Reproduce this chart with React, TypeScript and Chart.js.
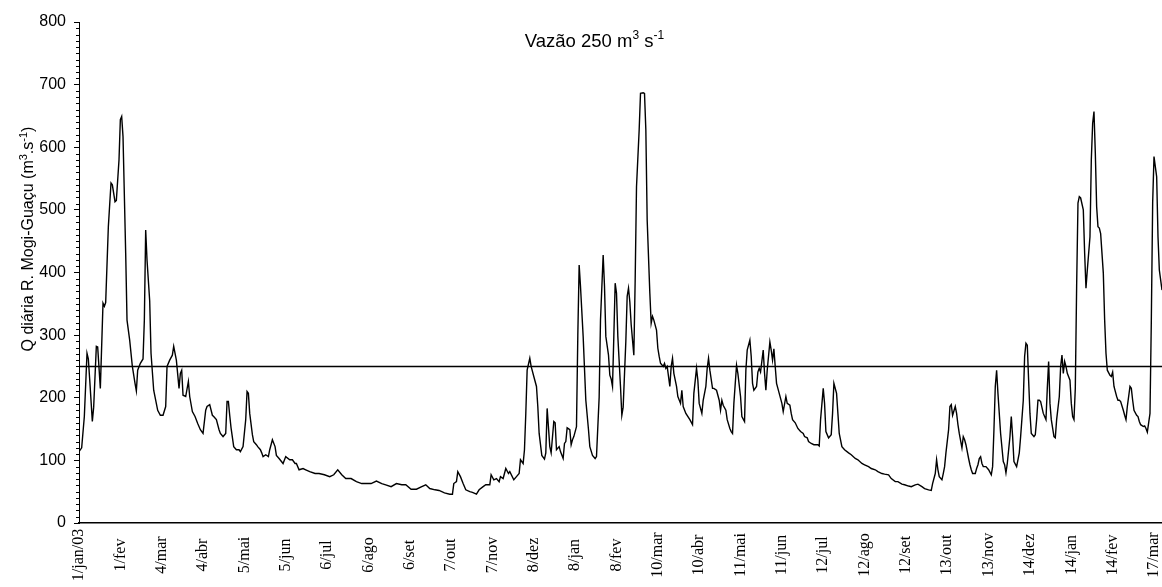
import React, { useEffect, useRef } from "react";
import { Chart, registerables } from "chart.js";

Chart.register(...registerables);

// Daily flow: [day offset from 1/jan/03, Q (m3/s)]
const flowSeries: [number, number][] = [
  [0,114],[2,120],[4,170],[6,271],[7,262],[8,230],[10,162],[11,185],[13,282],[14,281],[16,215],[18,351],[19,346],[20,352],[22,473],[24,543],[25,540],[27,513],[28,515],[30,580],[31,644],[32,649],[33,617],[35,431],[36,324],[38,292],[40,250],[42,223],[43,211],[44,244],[46,255],[48,262],[49,324],[50,468],[51,420],[53,355],[54,271],[56,212],[59,180],[61,172],[63,172],[65,186],[66,250],[68,260],[70,268],[71,282],[73,260],[75,215],[76,239],[77,244],[78,204],[80,202],[82,226],[83,202],[85,178],[87,170],[89,159],[91,149],[93,143],[95,180],[96,186],[98,189],[100,172],[101,170],[103,165],[105,149],[106,143],[108,138],[110,143],[111,194],[112,194],[113,172],[114,152],[116,122],[118,117],[120,117],[121,114],[123,122],[125,165],[126,210],[127,207],[128,175],[130,141],[131,130],[133,125],[134,122],[136,117],[137,112],[138,106],[140,109],
  [142,106],[143,117],[145,133],[147,122],[148,108],[150,103],[153,95],[155,106],[158,101],[160,101],[162,95],[163,95],[165,85],[168,87],[170,85],[173,82],[177,79],[180,79],[184,77],[188,74],[191,77],[194,85],[197,77],[200,71],[204,71],[208,66],[212,63],[215,63],[219,63],[223,67],[227,63],[230,61],[234,58],[238,63],[242,61],[245,61],[249,54],[253,54],[257,58],[260,61],[263,55],[267,53],[270,52],[274,48],[278,46],
  [280,46],[281,63],[283,66],[284,82],[286,74],[288,63],[290,53],[293,50],[295,49],[298,46],[300,53],[303,58],[305,61],[308,61],[309,77],[311,69],[313,71],[315,66],[316,74],[318,71],[320,87],[322,79],[323,82],[326,69],[328,74],[330,79],[331,101],[333,95],[334,117],[335,175],[336,244],[338,263],[339,250],[341,234],[343,218],[344,186],[345,143],[347,108],[349,102],[350,112],[351,183],[353,122],[354,112],[356,162],[357,160],[358,117],[360,122],[361,114],[363,103],[364,127],[365,130],[366,152],[368,149],[369,125],[370,133],[371,138],[373,154],[374,300],[375,412],[376,378],[378,298],[380,196],[382,149],[383,122],[385,108],[387,103],[388,106],[390,201],[391,324],[393,428],[394,378],[395,298],[397,268],[398,236],[399,230],[400,218],[401,298],[402,383],[403,367],[404,298],[406,218],[407,172],[408,185],[410,290],[411,362],[412,375],
  [413,353],[414,317],[416,268],[417,388],[418,537],[420,628],[421,686],[423,687],[424,686],[425,628],[426,484],[428,367],[429,319],[430,330],[431,324],[433,308],[434,279],[435,266],[436,255],[438,250],[439,255],[440,247],[441,250],[443,218],[444,250],[445,263],[446,239],[448,218],[449,202],[451,191],[452,212],[453,186],[455,175],[458,165],[460,157],[461,207],[463,247],[464,228],[465,191],[467,175],[468,196],[470,218],[471,247],[472,263],[473,244],[475,215],[476,215],[478,212],[480,196],[481,180],[482,196],[483,188],[485,180],[486,165],[488,151],[489,146],[490,143],[491,191],[493,252],[494,239],[496,202],[497,170],[499,162],[500,244],[501,276],[503,292],[504,266],[505,223],[506,212],[508,218],[509,241],[510,247],[511,241],[513,276],[514,239],[515,212],[516,244],[518,289],[519,276],[520,260],[521,278],[522,250],[523,223],[525,207],[527,191],[528,178],[530,202],[531,191],[533,188],[534,175],[535,165],[537,160],[539,151],[541,146],[543,143],[544,138],[546,136],
  [547,130],[549,127],[551,125],[554,125],[555,123],[556,165],[558,215],[559,191],[560,146],[562,136],[564,141],[565,175],[566,223],[568,207],[569,175],[570,143],[572,122],[574,117],[577,112],[579,109],[582,103],[584,101],[587,95],[589,93],[592,90],[594,87],[597,85],[599,82],[602,79],[604,78],[607,77],[609,71],[612,66],[614,66],[617,62],[619,61],[622,59],[624,58],[627,61],[629,62],[632,58],[634,55],[637,53],[639,52],[640,63],[642,79],[643,101],[644,85],[645,74],[647,69],[648,79],[649,90],[650,112],[652,149],[653,186],[654,189],[655,172],[657,186],[658,175],[659,157],[660,143],[662,120],[663,138],[664,133],[665,125],[667,103],[668,93],[669,85],[670,79],[672,79],[673,87],[674,93],[675,103],
  [676,106],[677,95],[678,90],[680,90],[682,85],[684,77],[685,90],[686,149],[687,218],[688,244],[689,207],[691,143],[693,98],[694,93],[695,80],[696,95],[698,138],[699,170],[700,138],[701,98],[703,90],[705,112],[706,138],[708,196],[709,266],[710,287],[711,284],[712,228],[713,175],[714,143],[716,138],[717,141],[718,165],[719,196],[720,196],[721,194],[723,175],[724,170],[725,165],[726,215],[727,258],[728,191],[729,165],[731,138],[732,136],[733,165],[735,202],[736,250],[737,268],[738,239],[739,258],[740,250],[741,239],[743,228],[744,191],[745,170],[746,165],[747,215],[748,378],[749,511],[750,521],[751,519],[753,500],[754,431],[755,375],[756,404],[758,457],[759,580],[760,638],[761,657],[762,591],[763,505],[764,473],[765,471],[766,462],[768,399],[769,324],[770,271],[771,244],[773,236],[774,234],[775,241],[776,218],[778,202],[779,196],[780,196],[781,194],[783,180],[784,172],[785,165],[786,186],[788,218],[789,215],[790,196],[791,180],[793,172],[794,170],[795,162],[796,157],[798,154],[799,155],[800,151],[801,145],[803,175],[804,324],[805,511],[806,585],[808,553],[809,457],[810,404],[812,372],
];

const thresholdValue = 250;

const tickLabels = [
  "1/jan/03", "1/fev", "4/mar", "4/abr", "5/mai", "5/jun", "6/jul", "6/ago", "6/set",
  "7/out", "7/nov", "8/dez", "8/jan", "8/fev", "10/mar", "10/abr", "11/mai", "11/jun",
  "12/jul", "12/ago", "12/set", "13/out", "13/nov", "14/dez", "14/jan", "14/fev", "17/mar",
];
const tickStepDays = 31;
const lastDay = 812;

const titleParts = [
  { text: "Vazão 250 m", sup: false },
  { text: "3", sup: true },
  { text: " s", sup: false },
  { text: "-1", sup: true },
];
const yTitleParts = [
  { text: "Q diária R. Mogi-Guaçu (m", sup: false },
  { text: "3", sup: true },
  { text: ".s", sup: false },
  { text: "-1", sup: true },
  { text: ")", sup: false },
];

const SANS = "'Liberation Sans', Arial, sans-serif";
const SERIF = "'Liberation Serif', 'Times New Roman', serif";

function drawRich(
  ctx: CanvasRenderingContext2D,
  parts: { text: string; sup: boolean }[],
  size: number,
  supSize: number,
  raise: number
) {
  const widths = parts.map((p) => {
    ctx.font = `${p.sup ? supSize : size}px ${SANS}`;
    return ctx.measureText(p.text).width;
  });
  const total = widths.reduce((a, b) => a + b, 0);
  let x = -total / 2;
  ctx.textAlign = "left";
  ctx.textBaseline = "alphabetic";
  parts.forEach((p, i) => {
    ctx.font = `${p.sup ? supSize : size}px ${SANS}`;
    ctx.fillText(p.text, x, p.sup ? -raise : 0);
    x += widths[i];
  });
}

const decorPlugin = {
  id: "decor",
  afterDraw(chart: any) {
    const ctx: CanvasRenderingContext2D = chart.ctx;
    const xs = chart.scales.x;
    const ys = chart.scales.y;
    const left = chart.chartArea.left;
    ctx.save();
    // minor ticks on y axis
    ctx.strokeStyle = "#000";
    ctx.lineWidth = 1;
    for (let v = 0; v <= 800; v += 10) {
      if (v % 100 === 0) continue;
      const y = Math.round(ys.getPixelForValue(v)) + 0.5;
      ctx.beginPath();
      ctx.moveTo(left - 3, y);
      ctx.lineTo(left, y);
      ctx.stroke();
    }
    // x tick labels, rotated, centred
    ctx.fillStyle = "#000";
    ctx.font = `16px ${SERIF}`;
    ctx.textAlign = "center";
    ctx.textBaseline = "middle";
    tickLabels.forEach((lab, i) => {
      const x = xs.getPixelForValue(i * tickStepDays);
      ctx.save();
      ctx.translate(x, 555);
      ctx.rotate(-Math.PI / 2);
      ctx.fillText(lab, 0, 0);
      ctx.restore();
    });
    // chart title
    ctx.save();
    ctx.translate(594.5, 46.5);
    drawRich(ctx, titleParts, 18.5, 12, 8);
    ctx.restore();
    // y axis title
    ctx.save();
    ctx.translate(33, 239);
    ctx.rotate(-Math.PI / 2);
    drawRich(ctx, yTitleParts, 16, 11, 6);
    ctx.restore();
    ctx.restore();
  },
};

export default function App() {
  const ref = useRef<HTMLCanvasElement>(null);
  useEffect(() => {
    document.body.style.margin = "0";
    const canvas = ref.current;
    if (!canvas) return;
    const chart = new Chart(canvas, {
      type: "line",
      data: {
        datasets: [
          {
            data: flowSeries.map(([d, q]) => ({ x: d, y: q })),
            borderColor: "#000",
            borderWidth: 1.4,
            pointRadius: 0,
            tension: 0,
            fill: false,
          },
          {
            data: [
              { x: 0, y: thresholdValue },
              { x: lastDay, y: thresholdValue },
            ],
            borderColor: "#000",
            borderWidth: 1.5,
            pointRadius: 0,
            fill: false,
          },
        ],
      },
      options: {
        animation: false,
        responsive: false,
        layout: { padding: { top: 22, right: 0, bottom: 0, left: 0 } },
        plugins: { legend: { display: false }, tooltip: { enabled: false }, title: { display: false } },
        scales: {
          x: {
            type: "linear",
            min: 0,
            max: lastDay,
            grid: { display: true, drawOnChartArea: false, drawTicks: false },
            border: { color: "#000", width: 1.5 },
            ticks: { display: false },
            afterFit: (s: any) => {
              s.height = 64;
            },
          },
          y: {
            min: 0,
            max: 800,
            ticks: {
              stepSize: 100,
              color: "#000",
              font: { family: SANS, size: 16 },
              padding: 8,
            },
            grid: { drawOnChartArea: false, drawTicks: true, tickLength: 5, color: "#000" },
            border: { color: "#000", width: 1 },
            afterFit: (s: any) => {
              s.width = 79;
            },
          },
        },
      },
      plugins: [decorPlugin],
    } as any);
    return () => chart.destroy();
  }, []);
  return <canvas ref={ref} width={1162} height={587} style={{ display: "block" }} />;
}
